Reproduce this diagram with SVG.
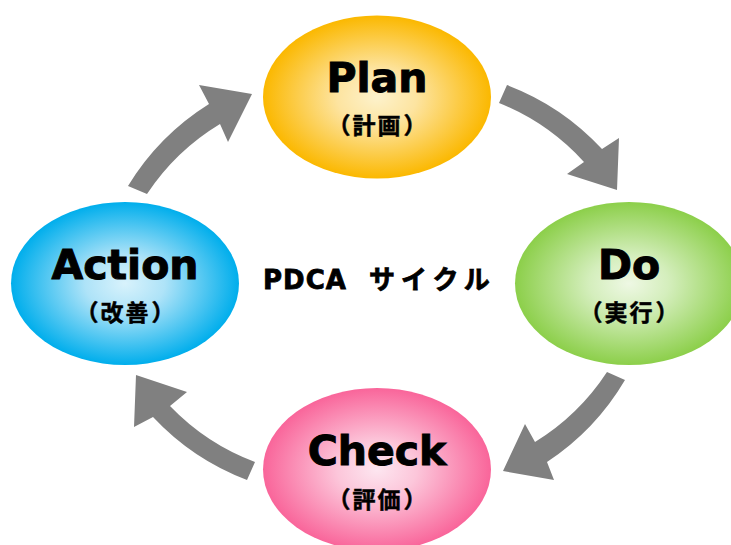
<svg xmlns="http://www.w3.org/2000/svg" width="731" height="545" viewBox="0 0 731 545">
<style>
.title{font-family:"DejaVu Sans","Liberation Sans",sans-serif;font-weight:bold;font-size:41px;fill:#000;stroke:#000;stroke-width:1;text-anchor:middle}
.sub{font-family:"Noto Sans CJK JP","Noto Sans CJK SC",sans-serif;font-weight:bold;font-size:23px;fill:#000;stroke:#000;stroke-width:0.5;text-anchor:middle}
.center{font-family:"DejaVu Sans","Noto Sans CJK JP",sans-serif;font-weight:bold;font-size:26px;fill:#000;stroke:#000;stroke-width:0.8}
.kana{font-family:"Noto Sans CJK JP","Noto Sans CJK SC",sans-serif;font-weight:bold;font-size:26px;letter-spacing:6px}
.arrow{fill:#808080}
</style>
<defs>
<radialGradient id="gPlan" cx="50%" cy="50%" r="50%">
<stop offset="0" stop-color="#fdf2cc"/>
<stop offset="0.35" stop-color="#fde4a0"/>
<stop offset="1" stop-color="#fbb800"/>
</radialGradient>
<radialGradient id="gDo" cx="50%" cy="50%" r="50%">
<stop offset="0" stop-color="#eef8e4"/>
<stop offset="0.35" stop-color="#d4eebc"/>
<stop offset="1" stop-color="#8ccf4a"/>
</radialGradient>
<radialGradient id="gCheck" cx="50%" cy="50%" r="50%">
<stop offset="0" stop-color="#fde6f0"/>
<stop offset="0.35" stop-color="#fcc6da"/>
<stop offset="1" stop-color="#f9659a"/>
</radialGradient>
<radialGradient id="gAction" cx="50%" cy="50%" r="50%">
<stop offset="0" stop-color="#d8f2fc"/>
<stop offset="0.35" stop-color="#aee3f8"/>
<stop offset="1" stop-color="#00aeec"/>
</radialGradient>
</defs>
<rect width="731" height="545" fill="#fff"/>
<g id="connectors">
<path class="arrow" d="M 507 85 A 250 250 0 0 1 602 149 L 619 138 L 617 190 L 567 174 L 584 162 A 230 230 0 0 0 499 103 Z"/>
<path class="arrow" d="M 625 380 A 250 250 0 0 1 547 462 L 554 480 L 503 471 L 525 424 L 535 442 A 230 230 0 0 0 607 372 Z"/>
<path class="arrow" d="M 247 480 A 250 250 0 0 1 153 417 L 134 427 L 136 375 L 187 392 L 170 406 A 230 230 0 0 0 255 462 Z"/>
<path class="arrow" d="M 128 186 A 250 250 0 0 1 209 104 L 199 85 L 252 94 L 228 142 L 220 124 A 230 230 0 0 0 147 194 Z"/>
</g>
<g id="plan">
<ellipse cx="377" cy="97" rx="114" ry="81.5" fill="url(#gPlan)"/>
<text class="title" x="377" y="92">Plan</text>
<text class="sub" x="339 364 389 415" y="134">（計画）</text>
</g>
<g id="do">
<ellipse cx="629" cy="283.5" rx="114" ry="81.5" fill="url(#gDo)"/>
<text class="title" x="629" y="279">Do</text>
<text class="sub" x="591 616 641 667" y="321">（実行）</text>
</g>
<g id="check">
<ellipse cx="377" cy="469.5" rx="114" ry="81.5" fill="url(#gCheck)"/>
<text class="title" x="377" y="465">Check</text>
<text class="sub" x="339 364 389 415" y="508">（評価）</text>
</g>
<g id="action">
<ellipse cx="125" cy="283.5" rx="114" ry="81.5" fill="url(#gAction)"/>
<text class="title" x="125" y="279">Action</text>
<text class="sub" x="87 112 137 163" y="321">（改善）</text>
</g>
<g id="label">
<text class="center" y="289"><tspan x="263" style="letter-spacing:1px">PDCA </tspan><tspan class="kana" x="369">サイクル</tspan></text>
</g>
</svg>
